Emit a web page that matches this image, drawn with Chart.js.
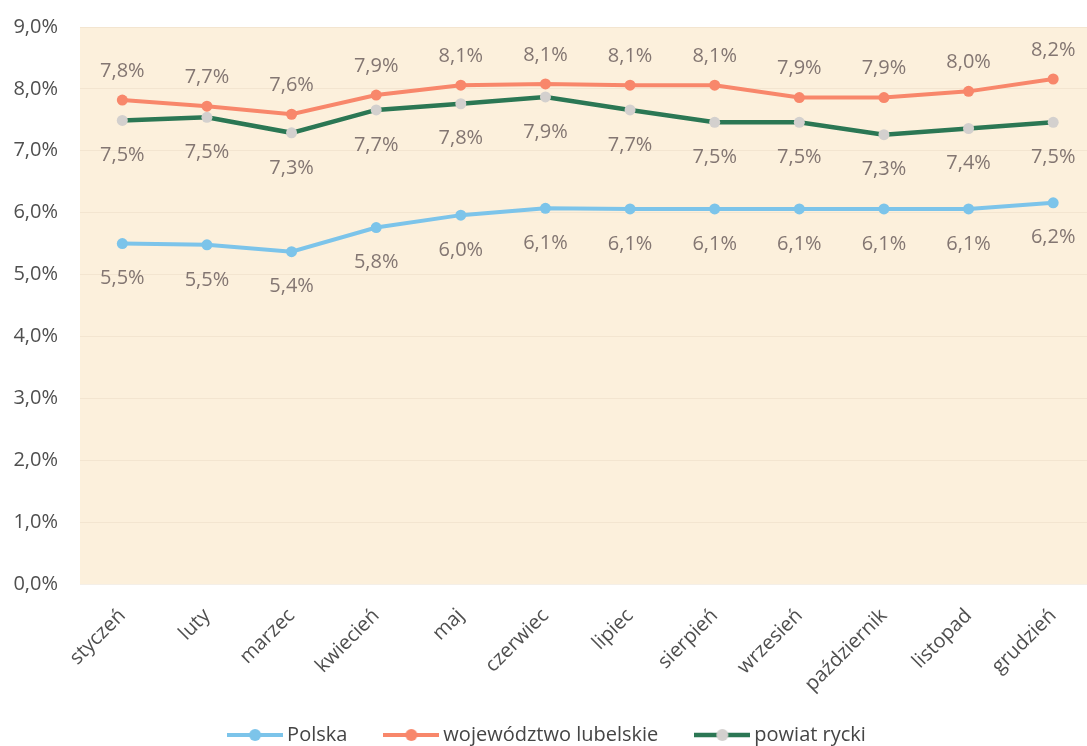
<!DOCTYPE html>
<html><head><meta charset="utf-8">
<script src="https://cdn.jsdelivr.net/npm/chart.js@4.4.1/dist/chart.umd.min.js"></script>
<style>
html,body{margin:0;padding:0;overflow:hidden;background:#fff;width:1087px;height:746px}
#wrap{position:absolute;left:0;top:0;width:1101px;height:755px}
canvas{display:block}
</style>
</head><body><div id="wrap"><canvas id="c" width="1101" height="755" style="width:1101px;height:755px"></canvas></div>
<script>
const categories = ['styczeń','luty','marzec','kwiecień','maj','czerwiec','lipiec','sierpień','wrzesień','październik','listopad','grudzień'];
const polska    = [5.50, 5.48, 5.37, 5.76, 5.96, 6.07, 6.06, 6.06, 6.06, 6.06, 6.06, 6.16];
const lubelskie = [7.82, 7.72, 7.59, 7.90, 8.06, 8.08, 8.06, 8.06, 7.86, 7.86, 7.96, 8.16];
const rycki     = [7.49, 7.54, 7.29, 7.66, 7.76, 7.87, 7.66, 7.46, 7.46, 7.26, 7.36, 7.46];
const seriesNames = ['Polska','województwo lubelskie','powiat rycki'];
const yMin = 0, yMax = 9, yStep = 1;

const fmt = v => v.toFixed(1).replace('.', ',') + '%';

function marker(lineColor, pointColor, lw){
  const c = document.createElement('canvas');
  c.width = 56; c.height = 16;
  const g = c.getContext('2d');
  g.strokeStyle = lineColor; g.lineWidth = lw;
  g.beginPath(); g.moveTo(0,8); g.lineTo(56,8); g.stroke();
  g.fillStyle = pointColor;
  g.beginPath(); g.arc(28,8,6,0,Math.PI*2); g.fill();
  return c;
}
const markers = [
  marker('#7cc4ea','#7cc4ea',4),
  marker('#f8876b','#f8876b',4),
  marker('#2b7754','#d3d0ce',4.5)
];

const plotBg = {
  id:'plotBg',
  beforeDraw(chart){
    const {ctx, chartArea:a} = chart;
    ctx.save();
    ctx.fillStyle = '#fcf0dc';
    ctx.fillRect(a.left, a.top, a.right-a.left, a.bottom-a.top);
    ctx.restore();
  }
};
const valueLabels = {
  id:'valueLabels',
  afterDatasetsDraw(chart){
    const ctx = chart.ctx;
    chart.data.datasets.forEach((ds,i)=>{
      const meta = chart.getDatasetMeta(i);
      ctx.save();
      ctx.font = '20px "Open Sans"';
      ctx.fillStyle = '#837672';
      ctx.textAlign = 'center';
      ctx.textBaseline = 'middle';
      meta.data.forEach((pt,j)=>{
        ctx.fillText(fmt(ds.data[j]), pt.x, pt.y + ds.labelDy);
      });
      ctx.restore();
    });
  }
};

new Chart(document.getElementById('c'), {
  type:'line',
  data:{
    labels: categories,
    datasets:[
      {label:seriesNames[0], data:polska, borderColor:'#7cc4ea', backgroundColor:'#7cc4ea', pointBackgroundColor:'#7cc4ea', pointBorderColor:'#7cc4ea', borderWidth:4, pointRadius:5.5, pointBorderWidth:0, tension:0, labelDy:35},
      {label:seriesNames[1], data:lubelskie, borderColor:'#f8876b', backgroundColor:'#f8876b', pointBackgroundColor:'#f8876b', pointBorderColor:'#f8876b', borderWidth:4, pointRadius:5.5, pointBorderWidth:0, tension:0, labelDy:-29},
      {label:seriesNames[2], data:rycki, borderColor:'#2b7754', backgroundColor:'#2b7754', pointBackgroundColor:'#d3d0ce', pointBorderColor:'#d3d0ce', borderWidth:4.5, pointRadius:5.5, pointBorderWidth:0, tension:0, labelDy:35}
    ]
  },
  options:{
    responsive:false,
    animation:false,
    layout:{padding:{top:27, right:2, left:0, bottom:0}},
    plugins:{
      legend:{
        position:'bottom',
        labels:{
          usePointStyle:true,
          pointStyleWidth:44,
          padding:42,
          color:'#454545',
          font:{family:'"Open Sans"', size:20},
          generateLabels(chart){
            const items = Chart.defaults.plugins.legend.labels.generateLabels(chart);
            items.forEach((it,i)=>{ it.pointStyle = markers[i]; });
            return items;
          }
        }
      },
      tooltip:{enabled:false}
    },
    scales:{
      x:{
        offset:true,
        grid:{display:false, drawTicks:false},
        border:{display:false},
        ticks:{color:'#4f4f4f', font:{family:'"Open Sans"', size:20}, maxRotation:45, minRotation:45, padding:20, autoSkip:false},
        afterFit(s){ s.height = 99; s._computeLabelArea = () => undefined; }
      },
      y:{
        min:yMin, max:yMax,
        grid:{color:'rgba(225,210,185,0.35)', drawTicks:false, lineWidth:1},
        border:{display:false},
        ticks:{stepSize:yStep, color:'#4f4f4f', font:{family:'"Open Sans"', size:20}, padding:22, callback:v=>fmt(v)},
        afterFit(s){ s.width = 80; s.paddingTop = 0; s.paddingBottom = 0; }
      }
    }
  },
  plugins:[plotBg, valueLabels]
});
</script>
</body></html>
